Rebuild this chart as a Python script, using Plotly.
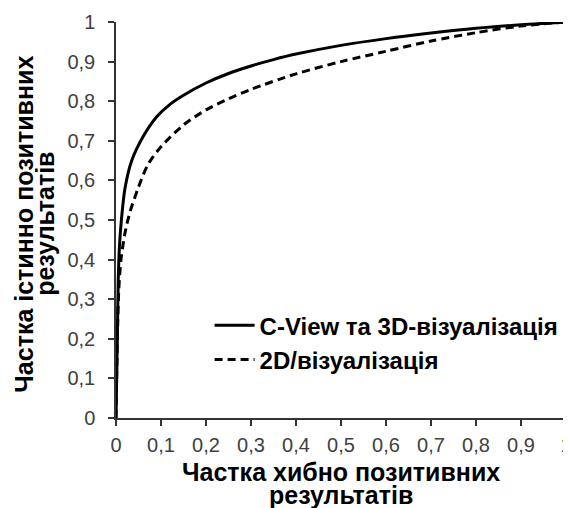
import plotly.graph_objects as go

# ROC curve data (false positive rate, true positive rate)
cview_fpr = [0.0, 0.003, 0.005, 0.008, 0.012, 0.02, 0.035, 0.06, 0.09, 0.12, 0.15, 0.2, 0.25, 0.3, 0.35, 0.4, 0.5, 0.6, 0.7, 0.8, 0.9, 1.0]
cview_tpr = [0.0, 0.2, 0.35, 0.44, 0.50, 0.58, 0.65, 0.71, 0.76, 0.792, 0.815, 0.846, 0.870, 0.889, 0.905, 0.919, 0.941, 0.958, 0.972, 0.984, 0.993, 1.0]

d2_fpr = [0.0, 0.003, 0.006, 0.011, 0.02, 0.031, 0.049, 0.071, 0.1, 0.15, 0.2, 0.25, 0.3, 0.4, 0.5, 0.6, 0.7, 0.8, 0.9, 1.0]
d2_tpr = [0.0, 0.2, 0.32, 0.40, 0.467, 0.52, 0.58, 0.64, 0.685, 0.74, 0.778, 0.806, 0.83, 0.869, 0.90, 0.926, 0.952, 0.973, 0.99, 1.0]

series_names = ["C-View та 3D-візуалізація", "2D/візуалізація"]

tick_vals = [0, 0.1, 0.2, 0.3, 0.4, 0.5, 0.6, 0.7, 0.8, 0.9, 1]
tick_text = ["0", "0,1", "0,2", "0,3", "0,4", "0,5", "0,6", "0,7", "0,8", "0,9", "1"]

x_title_lines = ["Частка хибно позитивних", "результатів"]
y_title_lines = ["Частка істинно позитивних", "результатів"]

FONT = "Arial, Liberation Sans, sans-serif"

fig = go.Figure()
fig.add_trace(go.Scatter(x=cview_fpr, y=cview_tpr, mode="lines", name=series_names[0],
                         line=dict(color="black", width=3, shape="spline", smoothing=0.8)))
fig.add_trace(go.Scatter(x=d2_fpr, y=d2_tpr, mode="lines", name=series_names[1],
                         line=dict(color="black", width=3, dash="8px,5px", shape="spline", smoothing=0.8)))

axis_common = dict(
    range=[0, 1], tickvals=tick_vals, ticktext=tick_text, automargin=False,
    showgrid=False, zeroline=False, showline=True, linecolor="#333333", linewidth=1.5,
    ticks="outside", ticklen=6, tickwidth=1.5, tickcolor="#333333",
    tickfont=dict(family=FONT, size=20, color="#404040"),
    ticklabeloverflow="allow",
)

# The page body has an 8px default margin, so the figure is sized to fit the window.
fig.update_layout(
    width=563, height=500,
    margin=dict(l=108, r=5, t=14, b=90),
    paper_bgcolor="white", plot_bgcolor="white",
    font=dict(family=FONT, color="black"),
    xaxis=dict(**axis_common, ticklabelstandoff=2),
    yaxis=dict(**axis_common, ticklabelstandoff=9),
    legend=dict(x=0.208, y=0.29, xanchor="left", yanchor="top",
                font=dict(family=FONT, size=24, color="black", weight="bold"),
                bgcolor="rgba(0,0,0,0)", itemwidth=40, tracegroupgap=0),
    showlegend=True,
)

# Axis titles as separate lines (tight line spacing as in the reference)
for text, yp in zip(x_title_lines, [-0.136, -0.194]):
    fig.add_annotation(text="<b>" + text + "</b>", xref="paper", yref="paper", x=0.5, y=yp,
                       xanchor="center", yanchor="middle", showarrow=False,
                       font=dict(family=FONT, size=25, color="black"))
for text, xp in zip(y_title_lines, [-0.205, -0.158]):
    fig.add_annotation(text="<b>" + text + "</b>", xref="paper", yref="paper", x=xp, y=0.49,
                       xanchor="center", yanchor="middle", showarrow=False, textangle=-90,
                       font=dict(family=FONT, size=25, color="black"))

fig.write_html("out.html")
